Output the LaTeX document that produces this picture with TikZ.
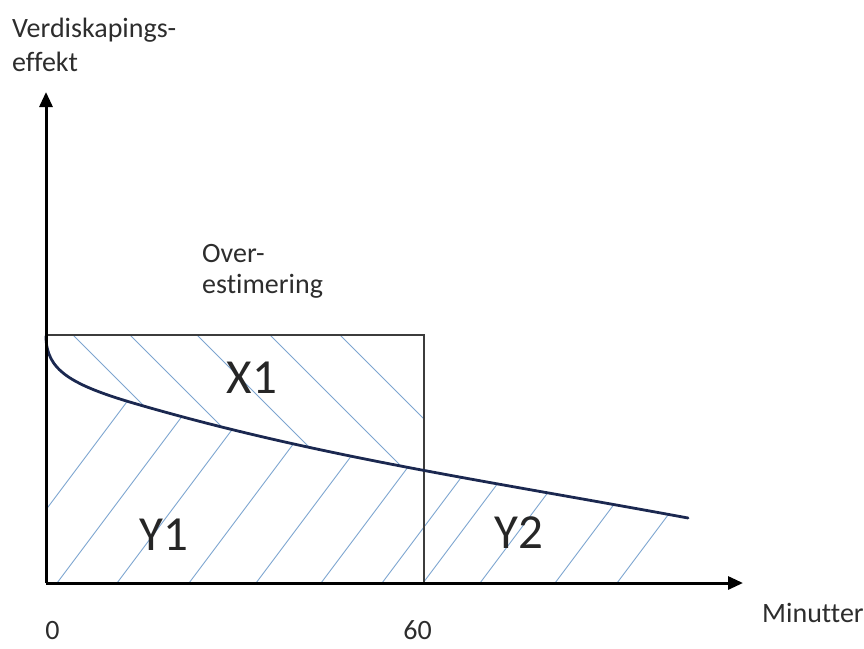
\documentclass[tikz,border=0pt]{standalone}
\usepackage{fontspec}
\setmainfont{Carlito}[Ligatures=NoCommon]
\usetikzlibrary{arrows.meta}
\definecolor{hatchblue}{RGB}{125,165,208}
\definecolor{curvenavy}{RGB}{27,40,80}
\definecolor{rectgray}{RGB}{60,60,60}
\definecolor{txtgray}{RGB}{45,45,45}
\tikzset{
  axisline/.style={line width=3pt, black, -{Triangle[length=15pt,width=13pt]}},
  hatchline/.style={line width=0.9pt, hatchblue},
  rectline/.style={line width=1.3pt, rectgray},
  curveline/.style={line width=2.8pt, curvenavy, line cap=round},
  lbl/.style={inner sep=0pt, text=txtgray, font=\fontsize{28}{34}\selectfont},
  biglbl/.style={inner sep=0pt, text=black!85, font=\fontsize{49}{58}\selectfont},
}
\begin{document}
\begin{tikzpicture}[x=1pt,y=-1pt]
\useasboundingbox (0,0) rectangle (864,648);
\coordinate (O) at (46,583);
\coordinate (ytip) at (46,92);
\coordinate (xtip) at (743,583);
\coordinate (rtl) at (46,335);
\coordinate (rtr) at (424,335);
\coordinate (rbr) at (424,583);
\coordinate (cs) at (46,336);
\coordinate (cm) at (140,405);
\coordinate (ce) at (688,518);
% hatching above curve (X1)
\begin{scope}
  \clip (rtl) rectangle (rbr);
  \clip (cs) .. controls (46,370) and (70,385) .. (cm) .. controls (320,457) and (488,481) .. (ce) -- (688,300) -- (46,300) -- cycle;
  \foreach \x in {73,130,197,270,340}
    \draw[hatchline] (\x,335) -- ++(320,320);
\end{scope}
% hatching below curve (Y1, Y2)
\begin{scope}
  \clip (cs) .. controls (46,370) and (70,385) .. (cm) .. controls (320,457) and (488,481) .. (ce) -- (688,583) -- (O) -- cycle;
  \foreach \x in {-9,57,117,189,256,321,382,423,480,555,617}
    \draw[hatchline] (\x,583) -- ++(300,-400);
\end{scope}
% rectangle
\draw[rectline] (rtl) -- (rtr) -- (rbr);
% curve
\draw[curveline] (cs) .. controls (46,370) and (70,385) .. (cm) .. controls (320,457) and (488,481) .. (ce);
% axes
\draw[axisline] (O) -- (ytip);
\draw[axisline] (O) -- (xtip);
% labels
\node[lbl, anchor=base west] (ylab1) at (12,37) {Verdiskapings-};
\node[lbl, anchor=base west] (ylab2) at (12,71) {effekt};
\node[lbl, anchor=base west] (over1) at (202,262) {Over-};
\node[lbl, anchor=base west] (over2) at (202,293) {estimering};
\node[biglbl] (x1) at (252,378) {X1};
\node[biglbl] (y1) at (164,535) {Y1};
\node[biglbl] (y2) at (519,533) {Y2};
\node[lbl, anchor=base west] (xlab) at (762,622) {Minutter};
\node[lbl, anchor=base] (t0) at (52.5,639) {0};
\node[lbl, anchor=base] (t60) at (417.5,639) {60};
\end{tikzpicture}
\end{document}
